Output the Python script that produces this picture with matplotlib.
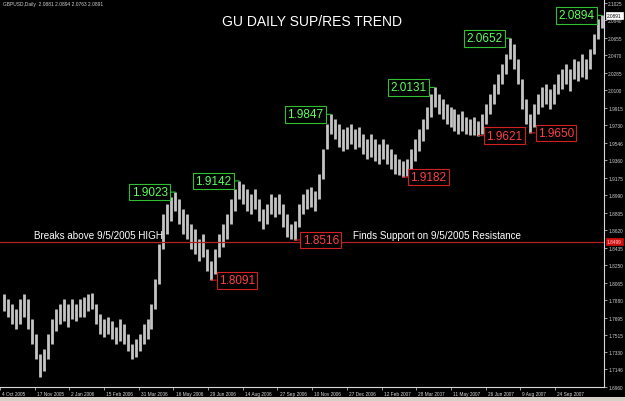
import matplotlib
matplotlib.use("Agg")
import matplotlib.pyplot as plt
from matplotlib.patches import Rectangle

# ---------------- data ----------------
highs = [1.7945,1.7892,1.7839,1.7786,1.7892,1.7945,1.7892,1.7680,1.7521,1.7310,
 1.7363,1.7521,1.7680,1.7786,1.7839,1.7892,1.7839,1.7892,1.7839,1.7892,
 1.7913,1.7945,1.7955,1.7839,1.7733,1.7680,1.7701,1.7659,1.7596,1.7680,
 1.7627,1.7521,1.7415,1.7468,1.7521,1.7627,1.7680,1.7839,1.8104,1.8474,
 1.8792,1.8898,1.8972,1.9023,1.8951,1.8845,1.8792,1.8686,1.8633,1.8527,
 1.8580,1.8421,1.8294,1.8421,1.8580,1.8686,1.8792,1.8951,1.9056,1.9142,
 1.9109,1.9056,1.9004,1.9056,1.8951,1.8845,1.8898,1.9004,1.8972,1.9004,
 1.8898,1.8792,1.8686,1.8718,1.8898,1.9004,1.9056,1.9078,1.9035,1.9215,
 1.9480,1.9745,1.9847,1.9798,1.9745,1.9692,1.9713,1.9745,1.9692,1.9713,
 1.9639,1.9586,1.9639,1.9586,1.9533,1.9586,1.9533,1.9480,1.9427,1.9374,
 1.9353,1.9374,1.9480,1.9586,1.9692,1.9798,1.9925,2.0062,2.0131,2.0062,
 2.0009,1.9956,1.9925,1.9903,1.9850,1.9882,1.9819,1.9798,1.9819,1.9776,
 1.9850,1.9956,2.0062,2.0168,2.0274,2.0380,2.0486,2.0652,2.0592,2.0433,
 2.0221,2.0009,1.9850,1.9956,2.0062,2.0136,2.0168,2.0115,2.0168,2.0274,
 2.0327,2.0380,2.0327,2.0433,2.0412,2.0486,2.0433,2.0539,2.0697,2.0856,
 2.0894]

lows = [1.7765,1.7701,1.7627,1.7574,1.7627,1.7701,1.7574,1.7415,1.7257,1.7066,
 1.7130,1.7257,1.7415,1.7553,1.7627,1.7659,1.7596,1.7680,1.7659,1.7701,
 1.7701,1.7765,1.7786,1.7627,1.7521,1.7490,1.7521,1.7468,1.7415,1.7447,
 1.7415,1.7341,1.7257,1.7278,1.7341,1.7415,1.7468,1.7574,1.7786,1.8051,
 1.8421,1.8580,1.8718,1.8824,1.8686,1.8580,1.8527,1.8421,1.8368,1.8294,
 1.8337,1.8188,1.8091,1.8157,1.8337,1.8442,1.8527,1.8686,1.8824,1.8951,
 1.8898,1.8824,1.8792,1.8845,1.8718,1.8633,1.8686,1.8792,1.8760,1.8792,
 1.8654,1.8548,1.8530,1.8516,1.8654,1.8792,1.8845,1.8866,1.8824,1.8951,
 1.9162,1.9480,1.9639,1.9586,1.9501,1.9459,1.9480,1.9533,1.9480,1.9501,
 1.9427,1.9374,1.9395,1.9353,1.9321,1.9374,1.9321,1.9268,1.9215,1.9200,
 1.9182,1.9190,1.9268,1.9353,1.9459,1.9565,1.9692,1.9819,1.9925,1.9850,
 1.9798,1.9745,1.9713,1.9671,1.9639,1.9671,1.9639,1.9630,1.9628,1.9621,
 1.9639,1.9745,1.9850,1.9956,2.0062,2.0168,2.0274,2.0433,2.0327,2.0168,
 1.9903,1.9745,1.9650,1.9713,1.9850,1.9925,1.9956,1.9903,1.9956,2.0062,
 2.0115,2.0168,2.0094,2.0221,2.0200,2.0242,2.0221,2.0327,2.0486,2.0645,
 2.0763]

date_labels = ["4 Oct 2005", "17 Nov 2005", "2 Jan 2006", "15 Feb 2006",
               "31 Mar 2006", "16 May 2006", "29 Jun 2006", "14 Aug 2006",
               "27 Sep 2006", "10 Nov 2006", "27 Dec 2006", "12 Feb 2007",
               "28 Mar 2007", "11 May 2007", "26 Jun 2007", "9 Aug 2007",
               "24 Sep 2007"]

price_ticks = [2.1025, 2.0840, 2.0655, 2.0470, 2.0285, 2.0100, 1.9915, 1.9730,
               1.9546, 1.9360, 1.9175, 1.8990, 1.8805, 1.8620, 1.8435, 1.8250,
               1.8065, 1.7880, 1.7695, 1.7515, 1.7330, 1.7146, 1.6960]

resistance_values = [1.9023, 1.9142, 1.9847, 2.0131, 2.0652, 2.0894]
support_values = [1.8091, 1.8516, 1.9182, 1.9621, 1.9650]
level_price = 1.8499
last_close = 2.0891
header = "GBPUSD,Daily  2.0881 2.0894 2.0763 2.0891"
title = "GU DAILY SUP/RES TREND"
note_left = "Breaks above 9/5/2005 HIGH"
note_right = "Finds Support on 9/5/2005 Resistance"

# ---------------- layout ----------------
W, H = 625, 402
FONT = "Liberation Sans"
fig = plt.figure(figsize=(W / 100, H / 100), dpi=100, facecolor="black")
ax = fig.add_axes([0, 14 / H, 604 / W, 388 / H], facecolor="black")

n = len(highs)
xs = [i + 0.5 for i in range(n)]
ax.set_xlim(0, n)
ax.set_ylim(1.6960, 1.6960 + 388 / 944.6)

ax.vlines(xs, lows, highs, color="#c4c4c4", linewidth=2.0, zorder=2)

ax.axhline(level_price, color="#b52020", linewidth=0.9, zorder=3)

for s in ["left", "top"]:
    ax.spines[s].set_visible(False)
for s in ["right", "bottom"]:
    ax.spines[s].set_color("#d8d8d8")
    ax.spines[s].set_linewidth(0.8)

ax.yaxis.tick_right()
ax.set_yticks(price_ticks)
ax.set_yticklabels([f"{v:.4f}" for v in price_ticks], fontsize=3.4,
                   color="#d0d0d0", family=FONT)
ax.tick_params(axis="y", length=2, width=0.5, color="#d8d8d8", pad=1)

px_per_bar = 604 / n
tick_px = [-2 + 34.8 * k for k in range(len(date_labels))]
tick_pos = [p / px_per_bar for p in tick_px]
ax.set_xticks(tick_pos)
ax.set_xticklabels([])
ax.tick_params(axis="x", length=2, width=0.5, color="#d8d8d8")
for p, lab in zip(tick_pos, date_labels):
    ax.annotate(lab, xy=(p, 0), xycoords=("data", "axes fraction"),
                xytext=(1.5, -5), textcoords="offset points", ha="left",
                va="center", fontsize=3.4, color="#d8d8d8", family=FONT,
                annotation_clip=False)

# resistance / support labels
for v in resistance_values:
    i = highs.index(v)
    ax.annotate(f"{v:.4f}", xy=(xs[i], v), xytext=(-5.5, 0),
                textcoords="offset points", ha="right", va="center",
                fontsize=8.5, color="#5cff5c", family=FONT, zorder=5,
                bbox=dict(boxstyle="square,pad=0.2", fc="black", ec="#2fbf2f", lw=0.8),
                arrowprops=dict(arrowstyle="-", color="#2fbf2f", lw=0.8,
                                shrinkA=0, shrinkB=0))
for v in support_values:
    i = lows.index(v)
    ax.annotate(f"{v:.4f}", xy=(xs[i], v), xytext=(5.5, 0),
                textcoords="offset points", ha="left", va="center",
                fontsize=8.5, color="#ff4040", family=FONT, zorder=5,
                bbox=dict(boxstyle="square,pad=0.2", fc="black", ec="#d02020", lw=0.8),
                arrowprops=dict(arrowstyle="-", color="#d02020", lw=0.8,
                                shrinkA=0, shrinkB=0))

# notes along the line
ax.annotate(note_left, xy=(34 / 604, level_price), xycoords=("axes fraction", "data"),
            xytext=(0, 4.8), textcoords="offset points", ha="left", va="center",
            fontsize=7.1, color="white", family=FONT, zorder=6)
ax.annotate(note_right, xy=(353 / 604, level_price), xycoords=("axes fraction", "data"),
            xytext=(0, 4.8), textcoords="offset points", ha="left", va="center",
            fontsize=7.1, color="white", family=FONT, zorder=6)

# price boxes on the right scale
ax.annotate(f"{last_close:.4f}", xy=(1.0, last_close), xycoords=("axes fraction", "data"),
            xytext=(2.0, 0), textcoords="offset points", ha="left", va="center",
            fontsize=3.4, color="black", family=FONT, annotation_clip=False, zorder=10,
            bbox=dict(boxstyle="square,pad=0.25", fc="white", ec="white", lw=0.5))
ax.annotate(f"{level_price:.4f}", xy=(1.0, level_price), xycoords=("axes fraction", "data"),
            xytext=(2.0, 0), textcoords="offset points", ha="left", va="center",
            fontsize=3.4, color="#ffd0d0", family=FONT, annotation_clip=False, zorder=10,
            bbox=dict(boxstyle="square,pad=0.25", fc="#d01010", ec="#d01010", lw=0.5))

fig.text(312.5 / W, 1 - 22 / H, title, ha="center", va="center", fontsize=10,
         color="white", family=FONT)
fig.text(3 / W, 1 - 4.5 / H, header, ha="left", va="center", fontsize=3.5,
         color="#d0d0d0", family=FONT)

# window border strip at the bottom
fig.patches.append(Rectangle((0, 0), 1, 4 / H, transform=fig.transFigure,
                             fc="#d4d0c8", ec="none", zorder=0))

fig.savefig("out.png", dpi=100, facecolor="black")
